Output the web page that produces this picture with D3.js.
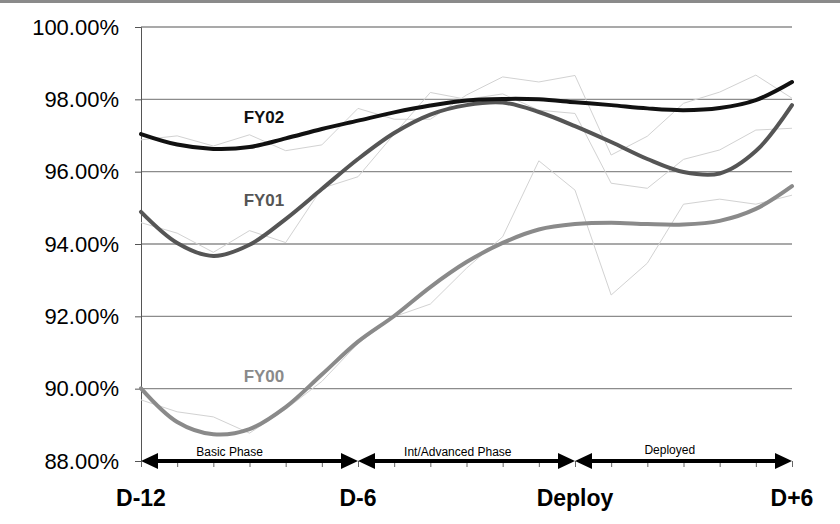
<!DOCTYPE html>
<html>
<head>
<meta charset="utf-8">
<script src="https://cdn.jsdelivr.net/npm/d3@7"></script>
<style>
  html, body { margin: 0; padding: 0; background: #fff; }
  svg { display: block; }
</style>
</head>
<body>
<svg id="chart" width="840" height="524"></svg>
<script>
// ---- data ----
const months = ["D-12","D-11","D-10","D-9","D-8","D-7","D-6","D-5","D-4","D-3","D-2","D-1","Deploy","D+1","D+2","D+3","D+4","D+5","D+6"];
const xTickLabels = ["D-12","D-6","Deploy","D+6"];
const yTicks = [88, 90, 92, 94, 96, 98, 100];

const fy02Trend = [97.04, 96.75, 96.63, 96.68, 96.92, 97.18, 97.41, 97.64, 97.83, 97.97, 98.01, 98.00, 97.92, 97.84, 97.75, 97.70, 97.76, 97.98, 98.48];
const fy01Trend = [94.89, 94.03, 93.67, 93.98, 94.69, 95.52, 96.35, 97.07, 97.58, 97.84, 97.91, 97.65, 97.26, 96.82, 96.35, 95.99, 95.95, 96.57, 97.84];
const fy00Trend = [90.01, 89.08, 88.74, 88.88, 89.49, 90.39, 91.30, 92.01, 92.81, 93.50, 94.03, 94.40, 94.55, 94.59, 94.55, 94.54, 94.64, 94.97, 95.60];

const fy02Raw = [96.88, 96.99, 96.71, 97.02, 96.58, 96.74, 97.75, 97.45, 97.45, 98.12, 98.62, 98.48, 98.66, 96.46, 96.98, 97.89, 98.20, 98.67, 98.03];
const fy01Raw = [94.59, 94.30, 93.77, 94.37, 94.04, 95.54, 95.86, 97.04, 98.19, 98.00, 98.15, 97.70, 97.61, 95.68, 95.54, 96.34, 96.60, 97.15, 97.20];
const fy00Raw = [89.69, 89.36, 89.22, 88.77, 89.43, 90.20, 91.25, 91.99, 92.34, 93.33, 94.20, 96.30, 95.49, 92.59, 93.47, 95.10, 95.24, 95.10, 95.35];

const seriesNames = ["FY02", "FY01", "FY00"];
const seriesLabelPos = [[3.4, 97.34], [3.4, 95.05], [3.4, 90.18]];

const phases = ["Basic Phase", "Int/Advanced Phase", "Deployed"];
const phaseBounds = [[0, 6], [6, 12], [12, 18]];
const phaseLabelAt = [2.45, 8.76, 14.62];

// ---- layout ----
const svg = d3.select("#chart");
const W = 840, H = 524;
const mLeft = 141, mRight = 792, mTop = 27, mBottom = 461;

const x = d3.scaleLinear().domain([0, months.length - 1]).range([mLeft, mRight]);
const y = d3.scaleLinear().domain([88, 100]).range([mBottom, mTop]);

// top gray bar
svg.append("rect").attr("x", 0).attr("y", 0).attr("width", W).attr("height", 3).attr("fill", "#8a8a8a");

// gridlines
svg.append("g").selectAll("line").data(yTicks.filter(d => d > 88)).join("line")
  .attr("x1", mLeft).attr("x2", mRight)
  .attr("y1", d => y(d)).attr("y2", d => y(d))
  .attr("stroke", "#8c8c8c").attr("stroke-width", 1.3);

// y axis
const yAxis = d3.axisLeft(y).tickValues(yTicks).tickSize(6).tickPadding(16)
  .tickFormat(d => d.toFixed(2) + "%");
const gy = svg.append("g").attr("transform", `translate(${mLeft},0)`).call(yAxis);
gy.select(".domain").attr("stroke", "#555");
gy.selectAll(".tick line").attr("stroke", "#555");
gy.selectAll("text").attr("font-family", "Liberation Sans, Arial, sans-serif")
  .attr("font-size", 22).attr("fill", "#000");

// x tick marks below baseline
const xAxis = d3.axisBottom(x).tickValues(d3.range(months.length)).tickSize(6).tickFormat("");
const gx = svg.append("g").attr("transform", `translate(0,${mBottom})`).call(xAxis);
gx.select(".domain").remove();
gx.selectAll(".tick line").attr("stroke", "#666");

// x labels
svg.append("g").selectAll("text").data(xTickLabels).join("text")
  .attr("x", d => x(months.indexOf(d)))
  .attr("y", 506)
  .attr("text-anchor", "middle")
  .attr("font-family", "Liberation Sans, Arial, sans-serif")
  .attr("font-weight", "bold").attr("font-size", 23)
  .text(d => d);

// raw lines
const lineLin = d3.line().x((d, i) => x(i)).y(d => y(d));
[fy02Raw, fy01Raw, fy00Raw].forEach(arr => {
  svg.append("path").datum(arr).attr("d", lineLin)
    .attr("fill", "none").attr("stroke", "#d2d2d2").attr("stroke-width", 1);
});

// trend lines
const lineSm = d3.line().x((d, i) => x(i)).y(d => y(d)).curve(d3.curveCatmullRom.alpha(0.5));
const trends = [fy00Trend, fy01Trend, fy02Trend];
const trendColors = ["#8a8a8a", "#555555", "#111111"];
trends.forEach((arr, k) => {
  svg.append("path").datum(arr).attr("d", lineSm)
    .attr("fill", "none").attr("stroke", trendColors[k]).attr("stroke-width", 4)
    .attr("stroke-linejoin", "round").attr("stroke-linecap", "round");
});

// series labels
const labelColors = ["#111111", "#555555", "#8a8a8a"];
svg.append("g").selectAll("text").data(seriesNames).join("text")
  .attr("x", (d, i) => x(seriesLabelPos[i][0]))
  .attr("y", (d, i) => y(seriesLabelPos[i][1]))
  .attr("text-anchor", "middle")
  .attr("font-family", "Liberation Sans, Arial, sans-serif")
  .attr("font-weight", "bold").attr("font-size", 17)
  .attr("fill", (d, i) => labelColors[i])
  .text(d => d);

// phase arrows
const ah = 17, aw = 8;
phaseBounds.forEach(([a, b]) => {
  const x0 = x(a), x1 = x(b), yy = mBottom;
  svg.append("line").attr("x1", x0 + 6).attr("x2", x1 - 6).attr("y1", yy).attr("y2", yy)
    .attr("stroke", "#000").attr("stroke-width", 4);
  svg.append("path").attr("d", `M${x0},${yy} L${x0 + ah},${yy - aw} L${x0 + ah},${yy + aw} Z`).attr("fill", "#000");
  svg.append("path").attr("d", `M${x1},${yy} L${x1 - ah},${yy - aw} L${x1 - ah},${yy + aw} Z`).attr("fill", "#000");
});

svg.append("g").selectAll("text").data(phases).join("text")
  .attr("x", (d, i) => x(phaseLabelAt[i]))
  .attr("y", (d, i) => i === 2 ? 454 : 456)
  .attr("text-anchor", "middle")
  .attr("font-family", "Liberation Sans, Arial, sans-serif")
  .attr("font-size", 12).attr("fill", "#000")
  .text(d => d);
</script>
</body>
</html>
